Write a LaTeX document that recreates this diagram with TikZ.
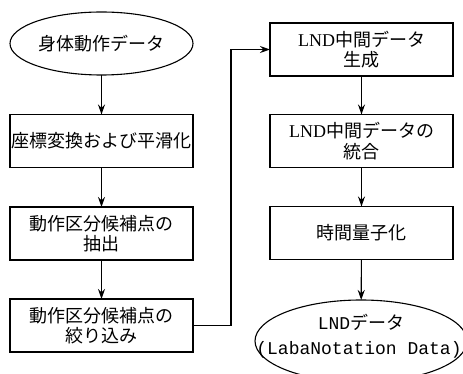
\documentclass[tikz,border=0pt]{standalone}
\usepackage{fontspec}
\newfontfamily\jp{Noto Sans CJK JP}
\newfontfamily\lnd{Liberation Serif}
\newfontfamily\mono{Liberation Mono}
\usetikzlibrary{shapes.geometric,arrows.meta}
\begin{document}
\begin{tikzpicture}[x=1pt,y=-1pt,
  every node/.style={inner sep=0pt, outer sep=0pt, align=center, font=\jp\fontsize{18}{20.5}\selectfont},
  procbox/.style={draw, line width=1.1pt, rectangle, minimum width=183pt, minimum height=53pt},
  term/.style={draw, line width=1.1pt, ellipse},
  flow/.style={line width=1.1pt, -{Stealth[length=10pt,width=7pt]}}]
\useasboundingbox (0,0) rectangle (463,374);
\clip (0,0) rectangle (463,374);
\fill[white] (0,0) rectangle (463,374);
% left column
\node[term, minimum width=183pt, minimum height=63pt] (e1) at (101.5,43.5) {身体動作データ};
\node[procbox] (b1) at (101.5,141) {座標変換および平滑化};
\node[procbox] (b2) at (101.5,233.5) {動作区分候補点の\\抽出};
\node[procbox] (b3) at (101.5,325.5) {動作区分候補点の\\絞り込み};
% right column
\node[procbox] (r1) at (361.5,49.5) {{\lnd LND}中間データ\\生成};
\node[procbox] (r2) at (361.5,141) {{\lnd LND}中間データの\\統合};
\node[procbox] (r3) at (361.5,233) {時間量子化};
\node[term, minimum width=212pt, minimum height=82pt] (e2) at (361,341) {};
\node (t1) at (361,322) {{\mono\fontsize{18}{20}\selectfont LND}データ};
\node (t2) at (359,350) {\mono\fontsize{18}{20}\selectfont(LabaNotation Data)};
\coordinate (jx) at (231,0);
% connectors
\draw[flow] (e1) -- (b1);
\draw[flow] (b1) -- (b2);
\draw[flow] (b2) -- (b3);
\draw[flow] (b3.east) -- (b3.east -| jx) -- (r1.west -| jx) -- (r1.west);
\draw[flow] (r1) -- (r2);
\draw[flow] (r2) -- (r3);
\draw[flow] (r3) -- (e2);
\end{tikzpicture}
\end{document}
